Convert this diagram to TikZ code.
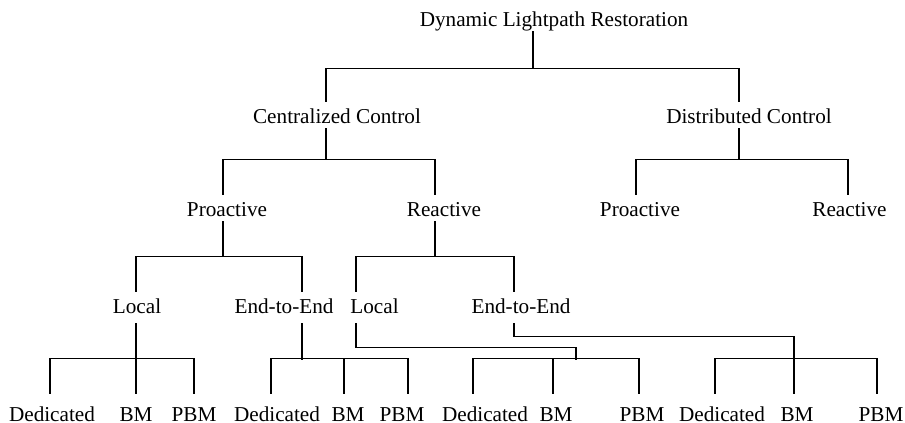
\documentclass[tikz,border=0pt]{standalone}
\usepackage{fontspec}
\setmainfont{Liberation Serif}

\begin{document}
\begin{tikzpicture}[x=0.5pt, y=-0.5pt,
    lbl/.style={font=\fontsize{10.6pt}{12pt}\selectfont, anchor=base, inner sep=0pt, text height=10.5pt, text depth=2.5pt},
    mid/.style={lbl, text depth=5pt},
    leaf/.style={lbl, text height=13.5pt, text depth=0pt},
    wire/.style={line width=0.55pt}]
    \useasboundingbox (0,0) rectangle (905,423);

    % Root and control types
    \node[lbl] (root) at (554,26) {Dynamic Lightpath Restoration};
    \node[lbl] (cc) at (337,123) {Centralized Control};
    \node[lbl] (dc) at (749,123) {Distributed Control};

    % Proactive / Reactive
    \node[lbl] (proL) at (227,216) {Proactive};
    \node[lbl] (reaL) at (444,216) {Reactive};
    \node[lbl] (proR) at (640,216) {Proactive};
    \node[lbl] (reaR) at (849.5,216) {Reactive};

    % Local / End-to-End
    \node[mid] (locL) at (137,313) {Local};
    \node[mid] (e2eL) at (284,313) {End-to-End};
    \node[mid] (locR) at (374.5,313) {Local};
    \node[mid] (e2eR) at (521,313) {End-to-End};

    % Leaves
    \node[leaf] (ded1) at (52,421) {Dedicated};
    \node[leaf] (bm1) at (136,421) {BM};
    \node[leaf] (pbm1) at (194,421) {PBM};
    \node[leaf] (ded2) at (277,421) {Dedicated};
    \node[leaf] (bm2) at (348,421) {BM};
    \node[leaf] (pbm2) at (402,421) {PBM};
    \node[leaf] (ded3) at (485,421) {Dedicated};
    \node[leaf] (bm3) at (556,421) {BM};
    \node[leaf] (pbm3) at (642,421) {PBM};
    \node[leaf] (ded4) at (722,421) {Dedicated};
    \node[leaf] (bm4) at (797,421) {BM};
    \node[leaf] (pbm4) at (881,421) {PBM};

    % Root to control
    \draw[wire] ([xshift=-10.5pt]root.south) -- ++(0,37) coordinate (j0)
        -| ([xshift=-5.5pt]cc.north);
    \draw[wire] (j0) -| ([xshift=-5pt]dc.north);

    % Control to proactive/reactive
    \draw[wire] ([xshift=-5.5pt]cc.south) -- ++(0,31) coordinate (j1)
        -| ([xshift=-2pt]proL.north);
    \draw[wire] (j1) -| ([xshift=-4.5pt]reaL.north);
    \draw[wire] ([xshift=-5pt]dc.south) -- ++(0,31) coordinate (j2)
        -| ([xshift=-2pt]proR.north);
    \draw[wire] (j2) -| ([xshift=-0.75pt]reaR.north);

    % Proactive/reactive to local/end-to-end
    \draw[wire] ([xshift=-2pt]proL.south) -- ++(0,35) coordinate (j3)
        -| ([xshift=-0.5pt]locL.north);
    \draw[wire] (j3) -| ([xshift=9pt]e2eL.north);
    \draw[wire] ([xshift=-4.5pt]reaL.south) -- ++(0,35) coordinate (j4)
        -| ([xshift=-9.25pt]locR.north);
    \draw[wire] (j4) -| ([xshift=-3.5pt]e2eR.north);

    % Local (left) to leaves
    \draw[wire] (locL.south -| bm1.north) -- (bm1.north);
    \draw[wire] ([xshift=-1pt]ded1.north) -- ++(0,-35) -| (pbm1.north);

    % End-to-End (left) to leaves
    \draw[wire] ([xshift=9pt]e2eL.south) -- ++(0,37);
    \draw[wire] ([xshift=-3pt]ded2.north) -- ++(0,-35) -| ([xshift=3pt]pbm2.north);
    \draw[wire] ([xshift=-2pt]bm2.north) -- ++(0,-35);

    % Local (right) to leaves
    \draw[wire] ([xshift=-9.25pt]locR.south) -- ++(0,24) -- ++(220,0) -- ++(0,13);
    \draw[wire] ([xshift=-6pt]ded3.north) -- ++(0,-35) -| ([xshift=-1.5pt]pbm3.north);
    \draw[wire] ([xshift=-1.5pt]bm3.north) -- ++(0,-35);

    % End-to-End (right) to leaves
    \draw[wire] ([xshift=-3.5pt]e2eR.south) -- ++(0,13) -| ([xshift=-1.5pt]bm4.north);
    \draw[wire] ([xshift=-3.5pt]ded4.north) -- ++(0,-35) -| ([xshift=-2pt]pbm4.north);
\end{tikzpicture}
\end{document}
